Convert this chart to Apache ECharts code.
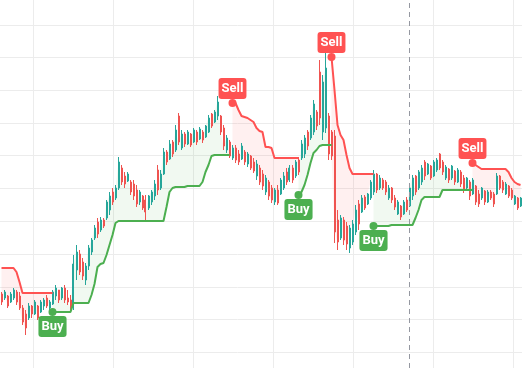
<!DOCTYPE html>
<html><head><meta charset="utf-8">
<script src="https://cdn.jsdelivr.net/npm/echarts@6/dist/echarts.min.js"></script>
<style>
html,body{margin:0;padding:0;background:#fff;overflow:hidden;width:522px;height:368px}
#c{position:absolute;left:-47px;top:-8px;width:569px;height:393px}
</style>
</head><body><div id="c"></div><script>
const openP = [
37,35,36,33,35,38,36,30,27,25,
31,27,31,28,31,35,30,32,36,39,
35,40,35,34,31,49,57,53,44,51,
58,65,73,69,74,75,79,88,85,90,
100,96,93.5,93,92,89,83,86,84,80,
83,86,99,90,97,108,104.5,113,109,126,
110,117,112,117,113,118,114.5,118,115.5,118,
127,123,126,126,120,109,113,105,110,107,
104.5,108,102,106,103,96,100,97,88,93,
90,83,89,87,90,98,94,100,96,104,
105,107,118,115,118,128,148,118,120,126,
118,116,74,65,74,71,60,63,68,82,
78,85.5,82,85,88,97,90,94,93,85,
90,85,77,81,77,84,81,86,96,90,
93,103,97,101,96,99,107,103,95,99.5,
95,98.5,93,98,95,90,93,87,91,87,
85,88.5,83,88,87,87,96,93,87,91,
89,82,85,81];
const closeP = [
33,38,31,37,39,33,30,23,20,31,
27,33,25,33,34,31,33,38,40,34,
40,34,33,30,52,58,48,46,51,60,
64,70,67,74,71,83,86,83,90,103,
93,92,97,88,86,82,88,80,78,86,
88,92,89,97,108,103,112,107,119,113,
117,112,118,111.5,119,113,119.5,114,121,125,
121,128,133,118,111,115,106,110,104,103,
111,103,107,100,98.5,102,93,91,95,86,
84,89,82.5,94,96,93,100,94,103,98,
112,115,111,125,132,121,125,143,150,107,
106,68,63,75,64,62,70,72,79,72,
85,80,87,93,97,89,95,90,88,90,
84,80.5,83,75.5,83,79,90,95,88,98,
100,96,102,95,103,104,100,98,100.5,94,
101,93,99,92,89,95,86,94,83,82,
90,83,88,85,82,96,90,89,92,86,
85,86,80,85];
const lowP = [
31.5,34,30,32.5,34,31.5,29,21.5,16.5,24,
25,26.5,24,27.5,29,30,29,31.5,34,32.5,
34,32.5,31.5,28,29,44,46.5,44,41.5,49,
56.5,64,65,68,70,74,76.5,81.5,84,89,
91.5,90,93,86.5,84,80.5,81.5,79,74,79,
81.5,84,86.5,89,96.5,101.5,104,105.5,108,111.5,
109,110.5,111.5,110.5,112.5,111.5,114,112.5,115,117.5,
120,122.5,124,116.5,109,107.5,105,104,102.5,101.5,
104,101.5,100.5,99,97.5,94,91.5,89,86.5,84,
82.5,81.5,81.5,86.5,89,91.5,93,92.5,95,96.5,
104,105,109,114,116.5,119,121.5,114,117.5,104,
104,62.5,59,64,61.5,59,57.5,61.5,66.5,69,
77.5,79,81.5,84,86.5,87.5,89,89,86.5,84,
82.5,79,76.5,74,76.5,78,80.5,84,86.5,89,
91.5,94,96.5,94,95.5,98,99,96.5,94,92.5,
94,91.5,92.5,90.5,87.5,89,84,86.5,81.5,80.5,
84,81.5,82.5,84,80.5,86.5,89,87.5,86.5,85,
84,81.5,79,80.5];
const highP = [
38,39,36.5,38,40,39,38,31.5,29,32.5,
31.5,34,31.5,34,35,36.5,34,39,41.5,39,
40.5,41.5,39,36.5,56.5,61.5,59,55,52.5,61.5,
65,71.5,75,75.5,75,84,88,90,91.5,105.5,
101.5,98,98,94,94,91.5,89,86.5,86.5,86.5,
89,94,101.5,99,110,109,114,114,121.5,127.5,
119,118,119,117.5,120,119,120.5,119,121.5,126.5,
127.5,129,136,126.5,121.5,116.5,114,111.5,111.5,109,
112.5,109,108,106.5,105,104,101.5,99,96.5,94,
91.5,90,91.5,95,98,100,101.5,101.5,104,105.5,
114,116.5,119,126.5,134,129,154,146.5,166.5,127.5,
119,119,79,76.5,75.5,73,71.5,74,81.5,84,
86.5,86.5,87.5,94,99,97.5,96.5,95,94,91.5,
90.5,86.5,84,81.5,84,85.5,91.5,96.5,96.5,99,
101.5,104,102.5,101.5,104,105,107.5,104,101.5,100,
101.5,99,100,99,96.5,95.5,94,95,91.5,89,
90.5,89,89,89,88,97.5,96.5,94,93,91.5,
90,86.5,85.5,85.5];
const N = null;
const upperBand = [
50,50,50,50,50,48,43,37.5,37.5,37.5,
37.5,37.5,37.5,37.5,37.5,37.5,37.5,37.5,N,N,
N,N,N,N,N,N,N,N,N,N,
N,N,N,N,N,N,N,N,N,N,
N,N,N,N,N,N,N,N,N,N,
N,N,N,N,N,N,N,N,N,N,
N,N,N,N,N,N,N,N,N,N,
N,N,N,N,N,N,N,132.5,132.5,129,
126,125.5,125,124,123,120,118.5,118,110.5,110.5,
110,105,105,105,105,105,105,105,105,105,
N,N,N,N,N,N,N,N,N,N,
155.5,139,121.5,116.5,114,106.5,100,97,97,97,
97,97,97,97,97,N,N,N,N,N,
N,N,N,N,N,N,N,N,N,N,
N,N,N,N,N,N,N,N,N,N,
N,N,N,N,N,N,N,102.5,101.5,100.5,
99.5,99.5,99.5,99.5,99.5,99.5,99.5,99.5,99.5,98,
95,93,92,91.5];
const lowerBand = [
N,N,N,N,N,N,N,N,N,N,
N,N,N,N,N,N,N,28,28,28,
28,28,28,28,32.5,32.5,32.5,32.5,32.5,32.5,
36.5,42,50.5,52,52.5,56.5,61.5,66.5,72.5,73.5,
73.5,73.5,73.5,73.5,73.5,73.5,73.5,73.5,73.5,73.5,
73.5,73.5,73.5,73.5,73.5,80.5,88,90,90.5,90.5,
90.5,90.5,91,91,91,91,91,93,98,101.5,
106,106.5,106.5,106.5,106.5,106.5,106.5,N,N,N,
N,N,N,N,N,N,N,N,N,N,
N,N,N,N,N,N,N,N,N,86.5,
88,91.5,96.5,102.5,107.5,109,111,111.5,111.5,111.5,
111.5,N,N,N,N,N,N,N,N,N,
N,N,N,N,71,71,71,71,71,71,
71.5,71.5,71.5,71.5,71.5,71.5,71.5,71.5,75,79,
84,85.5,85.5,85.5,85.5,85.5,85.5,89,89,89,
89,89,89,89,89,89,89,89,N,N,
N,N,N,N,N,N,N,N,N,N,
N,N,N,N];
const buyIdx = [17, 99, 124];
const sellIdx = [77, 110, 157];
const crossIdx = 136;

const categories = [];
const d0 = new Date(Date.UTC(2022, 0, 3));
for (let i = 0; i < openP.length; i++) {
  const d = new Date(d0.getTime() + i * 86400000);
  categories.push(d.toISOString().slice(0, 10));
}
const candles = openP.map((o, i) => [o, closeP[i], lowP[i], highP[i]]);
const gBase = lowerBand.map(v => v);
const gBand = lowerBand.map((v, i) => v == null ? null : Math.max(0, closeP[i] - v));
const rBase = upperBand.map((v, i) => v == null ? null : Math.min(v, closeP[i]));
const rBand = upperBand.map((v, i) => v == null ? null : Math.max(0, v - closeP[i]));

const UP = '#26a69a', DOWN = '#ef5350', RED = '#ff5252', GREEN = '#4caf50';
const hidden = {axisLine:{show:false}, axisTick:{show:false}, axisLabel:{show:false}};
const chart = echarts.init(document.getElementById('c'), null, {renderer:'canvas'});
const labelBase = {show:true, distance: 0, color:'#fff', fontFamily:'Roboto', fontWeight:'bold',
  fontSize:13, lineHeight:13, borderRadius: 3, padding:[4,3]};
chart.setOption({
  animation: false,
  backgroundColor: '#ffffff',
  grid: [
    {left: 47, top: 8, width: 522, height: 368},
    {left: 0, right: 0, top: 0, bottom: 0}
  ],
  xAxis: [
    Object.assign({type:'category', data: categories, boundaryGap: true, gridIndex: 0, splitLine:{show:false}}, hidden),
    Object.assign({type:'value', gridIndex: 1, min: 0, max: 569, interval: 80,
      splitLine:{show:true, lineStyle:{color:'#ececec', width:1}}}, hidden)
  ],
  yAxis: [
    Object.assign({type:'value', gridIndex: 0, min: 0, max: 184, splitLine:{show:false}}, hidden),
    Object.assign({type:'value', gridIndex: 1, min: 0, max: 12, interval: 1,
      splitLine:{show:true, lineStyle:{color:'#ececec', width:1}}}, hidden)
  ],
  series: [
    {type:'line', stack:'g', data: gBase, symbol:'none', lineStyle:{opacity:0}, z:1, silent:true},
    {type:'line', stack:'g', data: gBand, symbol:'none', lineStyle:{opacity:0},
      areaStyle:{color:'rgba(76,175,80,0.11)'}, z:1, silent:true},
    {type:'line', stack:'r', data: rBase, symbol:'none', lineStyle:{opacity:0}, z:1, silent:true},
    {type:'line', stack:'r', data: rBand, symbol:'none', lineStyle:{opacity:0},
      areaStyle:{color:'rgba(255,82,82,0.12)'}, z:1, silent:true},
    {type:'candlestick', data: candles, barWidth: 1.5, z:2,
      itemStyle:{color: UP, color0: DOWN, borderColor: UP, borderColor0: DOWN, borderWidth: 1},
      markLine:{symbol:['none','none'], silent:true, label:{show:false},
        lineStyle:{type:[5,4], color:'#9598a1', width:1},
        data:[{xAxis: categories[crossIdx]}]}},
    {type:'line', data: upperBand, symbol:'none', z:3, lineStyle:{color: RED, width: 2}},
    {type:'line', data: lowerBand, symbol:'none', z:3, lineStyle:{color: GREEN, width: 2}},
    {type:'scatter', z:5, symbol:'circle', symbolSize: 8, itemStyle:{color: GREEN, opacity: 1},
      data: buyIdx.map(i => [categories[i], lowerBand[i]]),
      label:Object.assign({position:'bottom', formatter:'Buy', backgroundColor: GREEN}, labelBase)},
    {type:'scatter', z:5, symbol:'circle', symbolSize: 8, itemStyle:{color: RED, opacity: 1},
      data: sellIdx.map(i => [categories[i], upperBand[i]]),
      label:Object.assign({position:'top', formatter:'Sell', backgroundColor: RED}, labelBase)}
  ]
});
</script></body></html>
